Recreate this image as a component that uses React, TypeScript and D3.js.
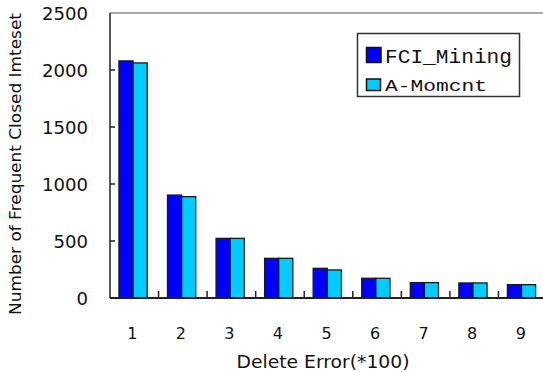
import React from "react";
import * as d3 from "d3";

const categories = ["1", "2", "3", "4", "5", "6", "7", "8", "9"];
const seriesNames = ["FCI_Mining", "A-Momcnt"];
const fciMining = [2080, 903, 523, 348, 260, 173, 135, 132, 117];
const aMoment = [2062, 889, 523, 348, 246, 173, 135, 132, 117];
const yTicks = [0, 500, 1000, 1500, 2000, 2500];
const colors = ["#0000FF", "#00CCFF"];

const W = 543;
const H = 372;
const left = 110;
const right = 547;
const top = 13;
const bottom = 298;

export default function App() {
  const x = d3.scaleBand<string>().domain(categories).range([left, right]).padding(0);
  const x1 = d3
    .scaleBand<string>()
    .domain(seriesNames)
    .range([0, x.bandwidth()])
    .paddingInner(0)
    .paddingOuter(0.72)
    .align(0.44);
  const y = d3.scaleLinear().domain([0, 2500]).range([bottom, top]);
  const series = [fciMining, aMoment];
  const sans = "'DejaVu Sans', sans-serif";
  const mono = "'Liberation Mono', 'DejaVu Sans Mono', monospace";

  return (
    <svg width={W} height={H} style={{ position: "absolute", left: 0, top: 0, background: "#fff" }}>
      <rect x={0} y={0} width={W} height={H} fill="#fff" />
      {/* bars */}
      {series.map((vals, si) =>
        vals.map((v, i) => (
          <rect
            key={`b${si}-${i}`}
            x={(x(categories[i]) ?? 0) + (x1(seriesNames[si]) ?? 0)}
            y={y(v)}
            width={x1.bandwidth()}
            height={bottom - y(v)}
            fill={colors[si]}
            stroke="#1a1a1a"
            strokeWidth={1.3}
          />
        ))
      )}
      {/* axes */}
      <line x1={left} x2={W} y1={top} y2={top} stroke="#555" strokeWidth={1.2} />
      <line x1={left} x2={left} y1={top} y2={bottom} stroke="#222" strokeWidth={1.5} />
      <line x1={left} x2={W} y1={bottom} y2={bottom} stroke="#222" strokeWidth={1.8} />
      {yTicks.slice(1, -1).map((t) => (
        <line key={`yt${t}`} x1={left} x2={left + 5} y1={y(t)} y2={y(t)} stroke="#222" strokeWidth={1.5} />
      ))}
      {categories.slice(1).map((c) => (
        <line
          key={`xt${c}`}
          x1={x(c) ?? 0}
          x2={x(c) ?? 0}
          y1={bottom}
          y2={bottom - 7}
          stroke="#222"
          strokeWidth={1.5}
        />
      ))}
      {yTicks.map((t) => (
        <text
          key={`yl${t}`}
          x={88}
          y={y(t) + 7}
          textAnchor="end"
          fontFamily={sans}
          fontSize={17}
          textLength={String(t).length * 11.5}
          lengthAdjust="spacingAndGlyphs"
          fill="#111"
        >
          {t}
        </text>
      ))}
      {categories.map((c) => (
        <text
          key={`xl${c}`}
          x={(x(c) ?? 0) + x.bandwidth() / 2 - 2}
          y={338.5}
          textAnchor="middle"
          fontFamily={sans}
          fontSize={16}
          fill="#111"
        >
          {c}
        </text>
      ))}
      <text
        x={323}
        y={368}
        textAnchor="middle"
        fontFamily={sans}
        fontSize={17.5}
        textLength={173}
        lengthAdjust="spacingAndGlyphs"
        fill="#111"
      >
        Delete Error(*100)
      </text>
      <text
        transform={`translate(21,164) rotate(-90)`}
        textAnchor="middle"
        fontFamily={sans}
        fontSize={16}
        textLength={302}
        lengthAdjust="spacingAndGlyphs"
        fill="#111"
      >
        Number of Frequent Closed Imteset
      </text>
      {/* legend */}
      <rect x={357.5} y={33.5} width={162} height={63} fill="#fff" stroke="#333" strokeWidth={1.5} />
      <rect x={366.5} y={47.5} width={14.5} height={15} fill={colors[0]} stroke="#111" strokeWidth={1.5} />
      <text
        x={385}
        y={63}
        fontFamily={mono}
        fontSize={21}
        textLength={127}
        lengthAdjust="spacingAndGlyphs"
        fill="#111"
      >
        {seriesNames[0]}
      </text>
      <rect x={366.5} y={79} width={14} height={11.5} fill={colors[1]} stroke="#111" strokeWidth={1.5} />
      <text
        x={385}
        y={90.5}
        fontFamily={mono}
        fontSize={17}
        textLength={102}
        lengthAdjust="spacingAndGlyphs"
        fill="#111"
      >
        {seriesNames[1]}
      </text>
    </svg>
  );
}
